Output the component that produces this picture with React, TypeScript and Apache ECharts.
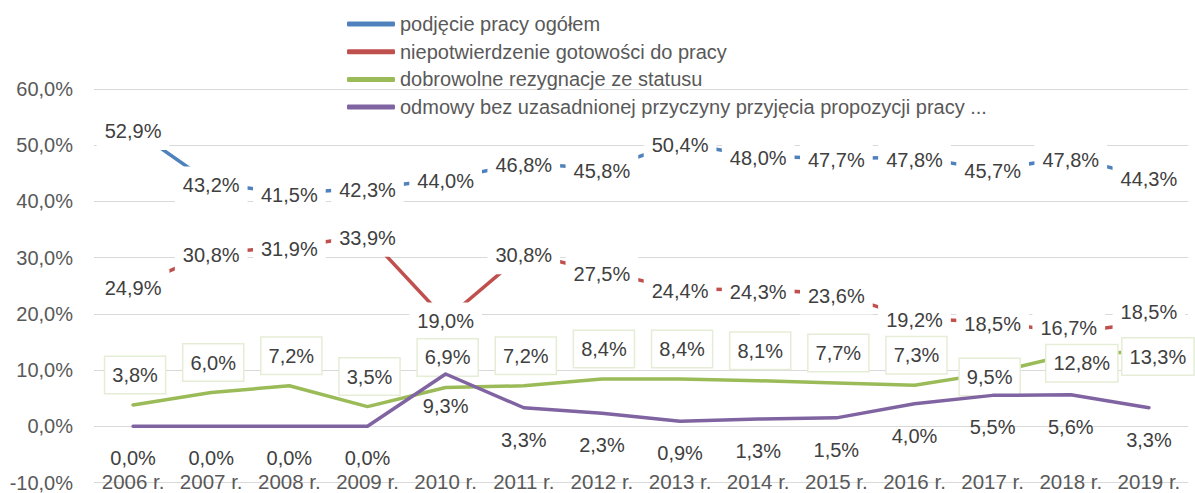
import React, { useEffect, useRef } from "react";
import * as echarts from "echarts";

const categories = [
  "2006 r.", "2007 r.", "2008 r.", "2009 r.", "2010 r.", "2011 r.", "2012 r.",
  "2013 r.", "2014 r.", "2015 r.", "2016 r.", "2017 r.", "2018 r.", "2019 r.",
];

const seriesNames = [
  "podjęcie pracy ogółem",
  "niepotwierdzenie gotowości do pracy",
  "dobrowolne rezygnacje ze statusu",
  "odmowy bez uzasadnionej przyczyny przyjęcia propozycji pracy ...",
];

const podjeciePracy = [52.9, 43.2, 41.5, 42.3, 44.0, 46.8, 45.8, 50.4, 48.0, 47.7, 47.8, 45.7, 47.8, 44.3];
const niepotwierdzenie = [24.9, 30.8, 31.9, 33.9, 19.0, 30.8, 27.5, 24.4, 24.3, 23.6, 19.2, 18.5, 16.7, 18.5];
const rezygnacje = [3.8, 6.0, 7.2, 3.5, 6.9, 7.2, 8.4, 8.4, 8.1, 7.7, 7.3, 9.5, 12.8, 13.3];
const odmowy = [0.0, 0.0, 0.0, 0.0, 9.3, 3.3, 2.3, 0.9, 1.3, 1.5, 4.0, 5.5, 5.6, 3.3];

const yTicks = { min: -10, max: 60, interval: 10 };

const colors = ["#4F81BD", "#C0504D", "#9BBB59", "#8064A2"];

const FONT = "'Liberation Sans', Arial, sans-serif";

const fmt = (v: number) => v.toFixed(1).replace(".", ",") + "%";

function withOffsets(values: number[], base: number[], overrides: Record<number, number[]>) {
  return values.map((v, i) => ({
    value: v,
    label: { offset: overrides[i] || base },
  }));
}

export default function App() {
  const ref = useRef<HTMLDivElement>(null);

  useEffect(() => {
    document.body.style.margin = "0";
    if (!ref.current) return;
    const chart = echarts.init(ref.current, undefined, { renderer: "svg" });

    const lineCommon = (color: string) => ({
      type: "line",
      symbol: "circle",
      symbolSize: 2,
      showSymbol: true,
      showAllSymbol: true,
      itemStyle: { color },
      lineStyle: { color, width: 3.5, cap: "round", join: "round" },
      emphasis: { disabled: true },
    });

    const labelText = {
      show: true,
      position: "inside",
      fontFamily: FONT,
      fontSize: 20,
      color: "#404040",
      formatter: (p: any) => fmt(p.value),
    };

    chart.setOption({
      animation: false,
      textStyle: { fontFamily: FONT },
      grid: {
        left: 94,
        right: 7,
        top: 89,
        bottom: 10.5,
        containLabel: false,
        outerBoundsMode: "none",
      },
      legend: {
        orient: "vertical",
        left: 342,
        top: 9,
        itemGap: 7.7,
        itemWidth: 48,
        itemHeight: 5,
        icon: "roundRect",
        textStyle: { fontFamily: FONT, fontSize: 20, color: "#595959", lineHeight: 20, padding: [0, 0, 0, 0] },
        data: seriesNames,
        selectedMode: false,
      },
      xAxis: {
        type: "category",
        data: categories,
        boundaryGap: true,
        axisLine: { show: false },
        axisTick: { show: false },
        axisLabel: {
          fontFamily: FONT,
          fontSize: 20.5,
          lineHeight: 16,
          color: "#595959",
          margin: -9,
          interval: 0,
        },
      },
      yAxis: {
        type: "value",
        min: yTicks.min,
        max: yTicks.max,
        interval: yTicks.interval,
        axisLine: { show: false },
        axisTick: { show: false },
        splitLine: { lineStyle: { color: "#d9d9d9", width: 1.2 } },
        axisLabel: {
          fontFamily: FONT,
          fontSize: 20,
          color: "#595959",
          margin: 21,
          formatter: (v: number) => fmt(v),
        },
      },
      series: [
        {
          ...lineCommon(colors[0]),
          name: seriesNames[0],
          z: 2,
          label: { ...labelText, backgroundColor: "#ffffff", padding: [9, 8] },
          data: withOffsets(podjeciePracy, [0, 2], {}),
        },
        {
          ...lineCommon(colors[1]),
          name: seriesNames[1],
          z: 3,
          label: { ...labelText, backgroundColor: "#ffffff", padding: [9, 8] },
          data: withOffsets(niepotwierdzenie, [0, 2], { 12: [-2, -4], 13: [0, -10] }),
        },
        {
          ...lineCommon(colors[2]),
          name: seriesNames[2],
          z: 4,
          label: {
            ...labelText,
            backgroundColor: "#ffffff",
            borderColor: "#e6edd6",
            borderWidth: 1.5,
            padding: [8, 7],
          },
          data: withOffsets(rezygnacje, [2, -30], { 11: [-3, 4], 12: [11, 9], 13: [9, 5] }),
        },
        {
          ...lineCommon(colors[3]),
          name: seriesNames[3],
          z: 5,
          label: { ...labelText },
          data: withOffsets(odmowy, [0, 32], {}),
        },
      ],
    });

    return () => chart.dispose();
  }, []);

  return <div ref={ref} style={{ width: 1195, height: 493 }} />;
}
